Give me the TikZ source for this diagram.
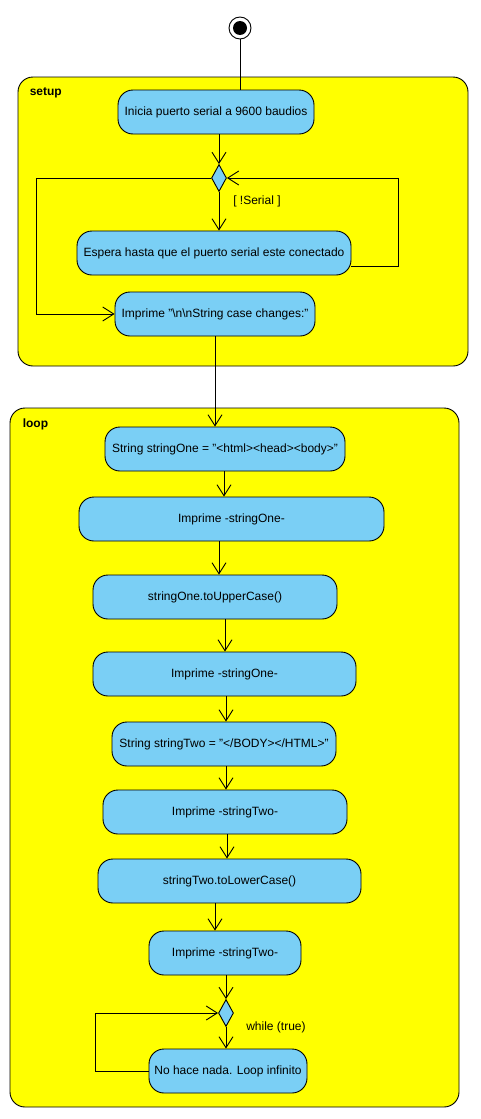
\documentclass[tikz,border=0pt]{standalone}
\usepackage{fontspec}
\setmainfont{Liberation Sans}
\usetikzlibrary{arrows.meta,shapes.geometric}

\definecolor{frameyellow}{HTML}{FFFF00}
\definecolor{actionblue}{HTML}{7ACFF5}

\tikzset{
  action/.style={draw, fill=actionblue, rounded corners=15pt, minimum height=44pt,
    inner sep=0pt, font=\fontsize{12}{14}\selectfont},
  decision/.style={draw, fill=actionblue, diamond, minimum width=15pt,
    minimum height=27pt, inner sep=0pt},
  frame/.style={draw, fill=frameyellow, rounded corners=15pt},
  framelabel/.style={anchor=west, font=\bfseries\fontsize{12}{14}\selectfont},
  guard/.style={font=\fontsize{12}{14}\selectfont},
  flow/.style={-{Straight Barb[length=11pt,width=14pt]}}
}

\begin{document}
\begin{tikzpicture}[x=1pt, y=-1pt, line width=0.9pt]
  \useasboundingbox (0,0) rectangle (480,1119);

  % Frames
  \draw[frame] (18,77) rectangle (468,366);
  \node[framelabel] (setuplbl) at (26,93) {setup};
  \draw[frame] (10,408) rectangle (459,1107);
  \node[framelabel] (looplbl) at (19,424) {loop};

  % Initial node
  \node[draw, circle, minimum size=22pt, inner sep=0pt, fill=white] (init) at (240,28) {};
  \fill (init) circle (7pt);

  % setup actions
  \node[action, minimum width=196pt] (s1) at (216,112) {Inicia puerto serial a 9600 baudios};
  \node[decision] (d1) at (219,178) {};
  \node[action, minimum width=274pt] (s2) at (214,253) {Espera hasta que el puerto serial este conectado};
  \node[action, minimum width=200pt] (s3) at (215,314) {Imprime "\textbackslash n\textbackslash nString case changes:"};
  \node[guard] (g1) at (257,201) {[ !Serial ]};

  % loop actions
  \node[action, minimum width=240pt] (l1) at (225,449) {String stringOne = "<html><head><body>"};
  \node[action, minimum width=305pt] (l2) at (231.5,519) {Imprime -stringOne-};
  \node[action, minimum width=244pt] (l3) at (215,597) {stringOne.toUpperCase()};
  \node[action, minimum width=263pt] (l4) at (224.5,674) {Imprime -stringOne-};
  \node[action, minimum width=224pt] (l5) at (224,744) {String stringTwo = "</BODY></HTML>"};
  \node[action, minimum width=244pt] (l6) at (225,812) {Imprime -stringTwo-};
  \node[action, minimum width=263pt] (l7) at (229.5,881) {stringTwo.toLowerCase()};
  \node[action, minimum width=152pt] (l8) at (225,953) {Imprime -stringTwo-};
  \node[decision] (d2) at (226,1013) {};
  \node[action, minimum width=158pt] (l9) at (228,1071) {No hace nada. Loop infinito};
  \node[guard] (g2) at (276,1027) {while (true)};

  % setup flows
  \draw (init.south) -- (init.south |- s1.north);
  \draw[flow] (s1.south -| d1) -- (d1.north);
  \draw[flow] (d1.south) -- (d1.south |- s2.north);
  \draw[flow] ([yshift=-13pt]s2.east) -- ++(47,0) |- (d1.east);
  \draw[flow] (d1.west) -- (36,178) |- (s3.west);
  \draw[flow] (s3.south) -- (s3.south |- l1.north);

  % loop flows
  \foreach \a/\b/\x in {l1/l2/224, l2/l3/219, l3/l4/225, l4/l5/226,
                         l5/l6/226, l6/l7/227, l7/l8/215, l8/d2/226, d2/l9/226} {
    \draw[flow] (\a.south -| \x,0) -- (\b.north -| \x,0);
  }
  \draw[flow] (l9.west) -- (95,1071) |- (d2.west);

\end{tikzpicture}
\end{document}
